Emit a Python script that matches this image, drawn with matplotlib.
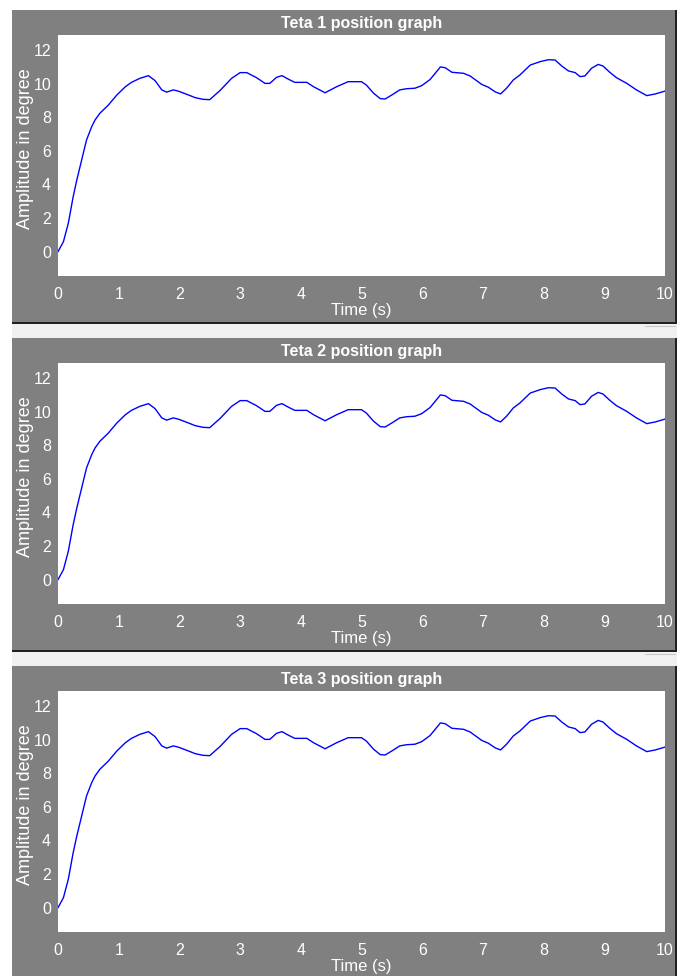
import matplotlib
matplotlib.use("Agg")
import matplotlib.pyplot as plt
from matplotlib.patches import Rectangle
from matplotlib.lines import Line2D

# Scope-style look
GRAY = "#808080"
STRIP = "#f0f0f0"
EDGE = "#202020"
LINE_BLUE = "#0000ff"

W, H = 685, 976

# traced step response (same signal on all three scopes)
time_s = [0, 0.09, 0.17, 0.25, 0.31, 0.39, 0.47, 0.555, 0.61, 0.69, 0.83, 0.97,
          1.11, 1.21, 1.35, 1.49, 1.60, 1.71, 1.79, 1.90, 1.98, 2.12, 2.26, 2.39,
          2.50, 2.67, 2.86, 3.0, 3.11, 3.27, 3.41, 3.49, 3.60, 3.69, 3.79, 3.90,
          4.10, 4.21, 4.40, 4.59, 4.78, 5.0, 5.08, 5.20, 5.31, 5.39, 5.50, 5.63,
          5.74, 5.88, 5.99, 6.13, 6.30, 6.38, 6.49, 6.68, 6.79, 6.98, 7.09, 7.20,
          7.29, 7.39, 7.50, 7.61, 7.78, 7.94, 8.08, 8.19, 8.30, 8.41, 8.52, 8.60,
          8.68, 8.79, 8.90, 8.98, 9.09, 9.20, 9.37, 9.53, 9.70, 9.84, 10.0]
teta = [0, 0.6, 1.69, 3.27, 4.27, 5.46, 6.65, 7.44, 7.84, 8.24, 8.73, 9.33,
        9.82, 10.08, 10.32, 10.48, 10.18, 9.63, 9.5, 9.63, 9.56, 9.37, 9.17, 9.07,
        9.05, 9.6, 10.32, 10.66, 10.66, 10.36, 10.02, 10.02, 10.38, 10.48, 10.28, 10.08,
        10.08, 9.82, 9.46, 9.82, 10.12, 10.12, 9.92, 9.43, 9.11, 9.09, 9.33, 9.63,
        9.70, 9.73, 9.88, 10.25, 11.0, 10.95, 10.68, 10.62, 10.46, 9.96, 9.79, 9.52,
        9.39, 9.73, 10.22, 10.52, 11.11, 11.31, 11.43, 11.41, 11.05, 10.76, 10.66, 10.42,
        10.46, 10.92, 11.15, 11.05, 10.68, 10.36, 10.02, 9.63, 9.29, 9.39, 9.56]

titles = ["Teta 1 position graph", "Teta 2 position graph", "Teta 3 position graph"]
x_ticks = list(range(0, 11))
y_ticks = [0, 2, 4, 6, 8, 10, 12]

plt.rcParams["font.family"] = ["Liberation Sans", "DejaVu Sans"]

fig = plt.figure(figsize=(W / 100, H / 100), dpi=100)
fig.patch.set_facecolor("white")


def px_rect(x0, y0, x1, y1):
    """Pixel box (top-left origin) -> figure fraction rect."""
    return (x0 / W, 1 - y1 / H, (x1 - x0) / W, (y1 - y0) / H)


for i, title in enumerate(titles):
    top = 10 + 328 * i
    bottom = min(top + 313, H)

    # panel background, dark border, separator strip (behind the axes)
    for box, col in [((12, top, 675, bottom), GRAY),
                     ((675, top, 677, bottom), EDGE),
                     ((12, top + 312, 677, top + 314), EDGE),
                     ((12, top + 314, 677, top + 328), STRIP)]:
        x, y, w, h = px_rect(*box)
        fig.patches.append(Rectangle((x, y), w, h, transform=fig.transFigure,
                                     facecolor=col, edgecolor="none", zorder=-5))
    fig.lines.append(Line2D([645 / W, 675 / W], [1 - (top + 316) / H] * 2,
                            transform=fig.transFigure, color="#c8c8c8", lw=0.8,
                            zorder=-4))

    ax = fig.add_axes(px_rect(58, top + 25, 665, top + 266))
    ax.set_facecolor("white")
    for spine in ax.spines.values():
        spine.set_visible(False)
    ax.plot(time_s, teta, color=LINE_BLUE, lw=1.0)
    ax.set_xlim(0, 10)
    ax.set_ylim(-1.45, 12.9)
    ax.set_xticks(x_ticks)
    ax.set_yticks(y_ticks)
    ax.tick_params(length=0, colors="white", labelsize=11.5)
    ax.tick_params(axis="x", pad=8)
    ax.tick_params(axis="y", pad=5)
    ax.set_title(title, color="white", fontsize=11.5, fontweight="bold", pad=5)
    ax.set_xlabel("Time (s)", color="white", fontsize=12, labelpad=1)
    ax.set_ylabel("Amplitude in degree", color="white", fontsize=13, va="center")
    ax.yaxis.set_label_coords(-0.054, 0.527)

fig.savefig("out.png", dpi=100, facecolor="white")
